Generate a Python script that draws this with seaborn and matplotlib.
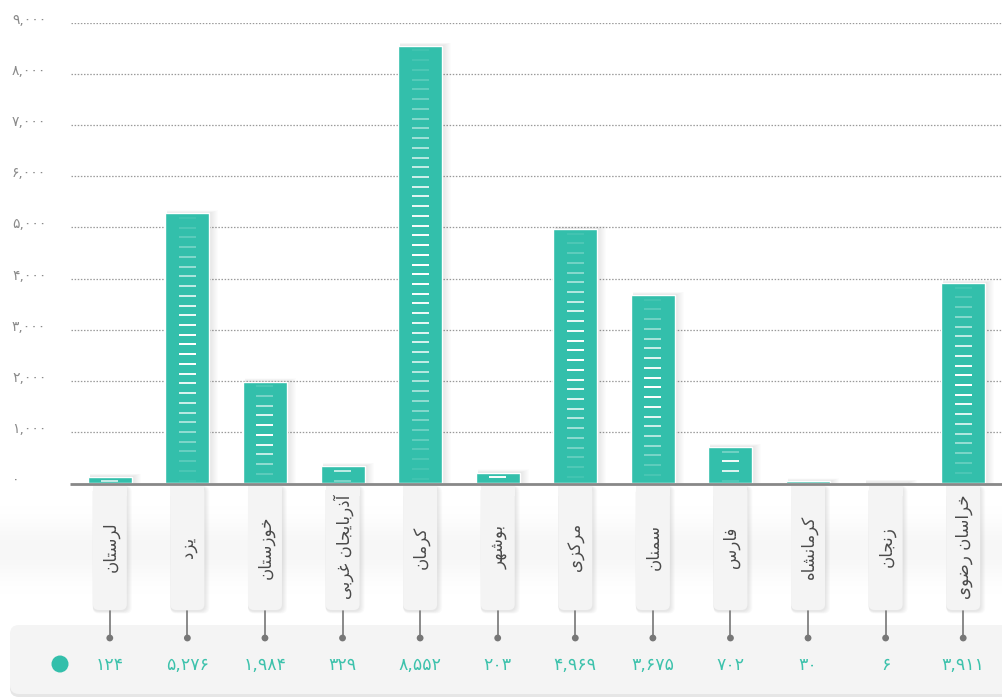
import numpy as np
import pandas as pd
import matplotlib
matplotlib.use("Agg")
import matplotlib.pyplot as plt
import seaborn as sns
from matplotlib.patches import FancyBboxPatch, Rectangle, Circle

# ---------------- data ----------------
provinces = ["لرستان", "یزد", "خوزستان", "آذربایجان غربی", "کرمان", "بوشهر",
             "مرکزی", "سمنان", "فارس", "کرمانشاه", "زنجان", "خراسان رضوی"]
values = [124, 5276, 1984, 329, 8552, 203, 4969, 3675, 702, 30, 6, 3911]
y_ticks = [0, 1000, 2000, 3000, 4000, 5000, 6000, 7000, 8000, 9000]

# ---------------- helpers ----------------
FA_DIGITS = str.maketrans("0123456789", "۰۱۲۳۴۵۶۷۸۹")


def fa_num(v):
    return f"{v:,}".translate(FA_DIGITS)


FORMS = {
    "ا": ("\uFE8D", "\uFE8E", None, None),
    "آ": ("\uFE81", "\uFE82", None, None),
    "ب": ("\uFE8F", "\uFE90", "\uFE91", "\uFE92"),
    "ت": ("\uFE95", "\uFE96", "\uFE97", "\uFE98"),
    "ج": ("\uFE9D", "\uFE9E", "\uFE9F", "\uFEA0"),
    "خ": ("\uFEA5", "\uFEA6", "\uFEA7", "\uFEA8"),
    "د": ("\uFEA9", "\uFEAA", None, None),
    "ذ": ("\uFEAB", "\uFEAC", None, None),
    "ر": ("\uFEAD", "\uFEAE", None, None),
    "ز": ("\uFEAF", "\uFEB0", None, None),
    "س": ("\uFEB1", "\uFEB2", "\uFEB3", "\uFEB4"),
    "ش": ("\uFEB5", "\uFEB6", "\uFEB7", "\uFEB8"),
    "ض": ("\uFEBD", "\uFEBE", "\uFEBF", "\uFEC0"),
    "غ": ("\uFECD", "\uFECE", "\uFECF", "\uFED0"),
    "ف": ("\uFED1", "\uFED2", "\uFED3", "\uFED4"),
    "ل": ("\uFEDD", "\uFEDE", "\uFEDF", "\uFEE0"),
    "م": ("\uFEE1", "\uFEE2", "\uFEE3", "\uFEE4"),
    "ن": ("\uFEE5", "\uFEE6", "\uFEE7", "\uFEE8"),
    "ه": ("\uFEE9", "\uFEEA", "\uFEEB", "\uFEEC"),
    "و": ("\uFEED", "\uFEEE", None, None),
    "ی": ("\uFBFC", "\uFBFD", "\uFBFE", "\uFBFF"),
    "ک": ("\uFB8E", "\uFB8F", "\uFB90", "\uFB91"),
}


def shape(word):
    chars = list(word)
    out = []
    for i, c in enumerate(chars):
        if c not in FORMS:
            out.append(c)
            continue
        prev = chars[i - 1] if i > 0 else None
        nxt = chars[i + 1] if i + 1 < len(chars) else None
        join_prev = prev in FORMS and FORMS[prev][2] is not None
        join_next = nxt in FORMS and FORMS[c][2] is not None
        iso, fin, ini, med = FORMS[c]
        if join_prev and join_next:
            f = med
        elif join_prev:
            f = fin
        elif join_next:
            f = ini
        else:
            f = iso
        out.append(f)
    return "".join(reversed(out))


# ---------------- style ----------------
W, H = 1003, 697
TEAL = "#33bfab"
TEAL_TXT = "#3dc2ac"
sns.set_theme(style="white")
plt.rcParams["font.family"] = ["DejaVu Sans"]

fig = plt.figure(figsize=(W / 100, H / 100), dpi=100)
fig.patch.set_facecolor("white")

# background axes in pixel coords (top-down)
bg = fig.add_axes([0, 0, 1, 1], zorder=0)
bg.set_xlim(0, W)
bg.set_ylim(H, 0)
bg.axis("off")

# main chart axes
ax = fig.add_axes([71 / W, 1 - 483 / H, (1002 - 71) / W, (483 - 23) / H], zorder=1)
ax.patch.set_alpha(0)

df = pd.DataFrame({"province": provinces, "value": values})
sns.barplot(data=df, x="province", y="value", color=TEAL, saturation=1,
            width=0.567, ax=ax, zorder=3)
ax.set_xlim(-0.5, len(provinces) - 0.5)
ax.set_ylim(0, y_ticks[-1])
for s in ax.spines.values():
    s.set_visible(False)
ax.set_xticks([])
ax.set_yticks([])
ax.set_xlabel("")
ax.set_ylabel("")

# gridlines
for t in y_ticks[1:]:
    ax.axhline(t, color="#9a9a9a", lw=0.9, ls=(0, (1.2, 1.3)), zorder=1)

# pixel/data conversions
px_x = (len(provinces)) / (1002 - 71)       # data units per px (x)
px_y = y_ticks[-1] / (483 - 23)             # data units per px (y)

# bar shadows and stripes
for p in ax.patches[:len(values)]:
    x0, w, h = p.get_x(), p.get_width(), p.get_height()
    for k in range(1, 10):
        ax.add_patch(Rectangle((x0 + 2 * px_x, 0), w - 2 * px_x + k * px_x,
                               h + (k * 0.35) * px_y,
                               color="black", alpha=0.012, lw=0, zorder=2))
    dash_w = 17 * px_x
    cx = x0 + w / 2
    pos = h - 4.6 * px_y
    while pos > 1.2 * px_y:
        t = pos / h
        a = 0.06 + 0.94 * np.sin(np.pi * t) ** 1.5
        ax.add_patch(Rectangle((cx - dash_w / 2, pos - 1.0 * px_y), dash_w, 2.0 * px_y,
                               color="white", alpha=a, lw=0, zorder=4))
        pos -= 9.73 * px_y

# y tick labels
for t in y_ticks:
    py = H - ax.transData.transform((0, t))[1]
    bg.text(12, py - 3, fa_num(t), ha="left", va="center", fontsize=10, color="#8a8a8a")

# soft glow behind labels
grad = np.zeros((120, 2, 4))
yy = np.linspace(0, 1, 120)
grad[..., 3] = (0.035 * np.exp(-((yy - 0.5) / 0.25) ** 2))[:, None]
bg.imshow(grad, extent=(0, W, 610, 490), aspect="auto", interpolation="bilinear", zorder=0)

# baseline (just below the zero line)
bg.plot([70, W], [484.3, 484.3], color="#888888", lw=2.0, solid_capstyle="butt", zorder=5)

# bottom band
bg.add_patch(FancyBboxPatch((10, 627), W + 20, 70, boxstyle="round,pad=0,rounding_size=9",
                            fc="#e6e6e6", ec="none", zorder=1))
bg.add_patch(FancyBboxPatch((10, 625), W + 20, 69, boxstyle="round,pad=0,rounding_size=9",
                            fc="#f4f4f4", ec="none", zorder=1))
bg.add_patch(Circle((60, 664), 8.5, color=TEAL, lw=0, zorder=2))

# category label boxes, connectors and values
for i, (name, v) in enumerate(zip(provinces, values)):
    cx = ax.transData.transform((i, 0))[0]
    for k in range(1, 6):
        bg.add_patch(FancyBboxPatch((cx - 17, 486), 34 + k, 125 + k * 0.5,
                                    boxstyle="round,pad=0,rounding_size=6",
                                    fc="black", alpha=0.018, ec="none", zorder=2))
    bg.add_patch(FancyBboxPatch((cx - 17, 486), 34, 124,
                                boxstyle="round,pad=0,rounding_size=6",
                                fc="#f4f4f4", ec="none", zorder=2))
    bg.add_patch(Rectangle((cx - 17, 486), 34, 10, fc="#f4f4f4", ec="none", zorder=2))
    bg.text(cx + 1, 547, shape(name), rotation=90, ha="center", va="center",
            fontsize=12, color="#4a4a4a", rotation_mode="anchor", zorder=3)
    bg.plot([cx, cx], [611, 638], color="#777777", lw=1.2, zorder=3)
    bg.add_patch(Circle((cx, 638), 3.4, color="#777777", lw=0, zorder=3))
    bg.text(cx, 665, fa_num(v), ha="center", va="center", fontsize=12.5, color=TEAL_TXT,
            zorder=3)

fig.savefig("out.png", dpi=100)
